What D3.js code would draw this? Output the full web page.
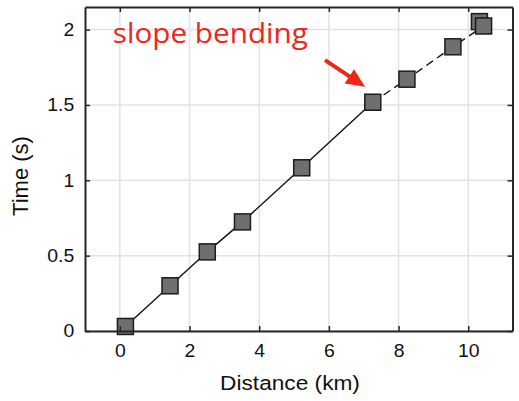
<!DOCTYPE html>
<html>
<head>
<meta charset="utf-8">
<script src="https://d3js.org/d3.v7.min.js"></script>
<style>
  body { margin: 0; background: #fff; }
  svg { display: block; }
</style>
</head>
<body>
<script>
// distance (km) and travel time (s) picked off the plot
var distance = [0.16, 1.44, 2.51, 3.52, 5.22, 7.26, 8.24, 9.56, 10.32, 10.44];
var time = [0.03, 0.30, 0.525, 0.724, 1.083, 1.518, 1.671, 1.886, 2.053, 2.024];
// where the slope changes (index of the 7.26 km point)
var bendIndex = 5;

var xTicks = [0, 2, 4, 6, 8, 10];
var yTicks = [0, 0.5, 1, 1.5, 2];
var yTickLabels = ["0", "0.5", "1", "1.5", "2"];

var W = 519, H = 401;
var pLeft = 85, pRight = 512.5, pTop = 7, pBottom = 331;

var svg = d3.select("body").append("svg")
  .attr("width", W)
  .attr("height", H);

var x = d3.scaleLinear().domain([-1, 11.27]).range([pLeft, pRight]);
var y = d3.scaleLinear().domain([0, 2.15]).range([pBottom, pTop]);

var pts = distance.map(function(d, i) { return { x: d, y: time[i] }; });

//grid
svg.append("g").selectAll("line")
  .data(xTicks)
  .enter().append("line")
  .attr("x1", function(d) { return x(d); })
  .attr("x2", function(d) { return x(d); })
  .attr("y1", pTop)
  .attr("y2", pBottom)
  .attr("stroke", "#e2e2e2")
  .attr("stroke-width", 1.5);
svg.append("g").selectAll("line")
  .data(yTicks)
  .enter().append("line")
  .attr("x1", pLeft)
  .attr("x2", pRight)
  .attr("y1", function(d) { return y(d); })
  .attr("y2", function(d) { return y(d); })
  .attr("stroke", "#e2e2e2")
  .attr("stroke-width", 1.5);

//lines, solid up to the bend, dashed after it
var line = d3.line()
  .x(function(d) { return x(d.x); })
  .y(function(d) { return y(d.y); });

svg.append("path")
  .datum(pts.slice(0, bendIndex + 1))
  .attr("d", line)
  .attr("fill", "none")
  .attr("stroke", "#111")
  .attr("stroke-width", 1.4);

// dashed part runs to the last pick, skipping the one hidden under it
svg.append("path")
  .datum(pts.slice(bendIndex).filter(function(d, i, a) { return i != a.length - 2; }))
  .attr("d", line)
  .attr("fill", "none")
  .attr("stroke", "#111")
  .attr("stroke-width", 1.4)
  .attr("stroke-dasharray", "8,5");

//markers
var s = 16;
svg.append("g").selectAll("rect")
  .data(pts)
  .enter().append("rect")
  .attr("x", function(d) { return x(d.x) - s / 2; })
  .attr("y", function(d) { return y(d.y) - s / 2; })
  .attr("width", s)
  .attr("height", s)
  .attr("fill", "#6f6f6f")
  .attr("stroke", "#1c1c1c")
  .attr("stroke-width", 1.5);

//axes (box with inside ticks)
function styleAxis(g) {
  g.select(".domain").attr("stroke", "#262626").attr("stroke-width", 2);
  g.selectAll(".tick line").attr("stroke", "#262626").attr("stroke-width", 1.5);
  g.selectAll(".tick text")
    .attr("fill", "#111")
    .style("font-family", "'Liberation Sans', Arial, sans-serif")
    .style("font-size", "18px");
}

svg.append("g")
  .attr("transform", "translate(0," + pBottom + ")")
  .call(d3.axisBottom(x).tickValues(xTicks).tickSize(-5).tickPadding(13).tickSizeOuter(0))
  .call(styleAxis)
  .selectAll(".tick text").attr("transform", "scale(1.08,1)");

svg.append("g")
  .attr("transform", "translate(0," + pTop + ")")
  .call(d3.axisTop(x).tickValues(xTicks).tickSize(-5).tickFormat("").tickSizeOuter(0))
  .call(styleAxis);

svg.append("g")
  .attr("transform", "translate(" + pLeft + ",0)")
  .call(d3.axisLeft(y).tickValues(yTicks).tickSize(-5).tickPadding(10).tickSizeOuter(0)
    .tickFormat(function(d, i) { return yTickLabels[i]; }))
  .call(styleAxis)
  .selectAll(".tick text").attr("transform", "scale(1.08,1)");

svg.append("g")
  .attr("transform", "translate(" + pRight + ",0)")
  .call(d3.axisRight(y).tickValues(yTicks).tickSize(-5).tickFormat("").tickSizeOuter(0))
  .call(styleAxis);

//axis titles
svg.append("text")
  .attr("transform", "translate(290,390) scale(1.08,1)")
  .attr("text-anchor", "middle")
  .style("font-family", "'Liberation Sans', Arial, sans-serif")
  .style("font-size", "21px")
  .attr("fill", "#111")
  .text("Distance (km)");

svg.append("text")
  .attr("transform", "translate(28,176) rotate(-90)")
  .attr("text-anchor", "middle")
  .style("font-family", "'Liberation Sans', Arial, sans-serif")
  .style("font-size", "22px")
  .attr("fill", "#111")
  .text("Time (s)");

//annotation
var red = "#ee2619";
svg.append("text")
  .attr("x", x(-0.2))
  .attr("y", y(1.91))
  .attr("textLength", 195)
  .attr("lengthAdjust", "spacingAndGlyphs")
  .style("font-family", "'Open Sans', sans-serif")
  .style("font-size", "28px")
  .attr("fill", red)
  .text("slope bending");

var a0 = [x(5.89), y(1.797)], a1 = [x(7.04), y(1.62)];
var ang = Math.atan2(a1[1] - a0[1], a1[0] - a0[0]);
var hl = 19, hw = 8.5;
var hb = [a1[0] - hl * Math.cos(ang), a1[1] - hl * Math.sin(ang)];
svg.append("line")
  .attr("x1", a0[0]).attr("y1", a0[1])
  .attr("x2", hb[0] + 2 * Math.cos(ang)).attr("y2", hb[1] + 2 * Math.sin(ang))
  .attr("stroke", red)
  .attr("stroke-width", 4);
svg.append("path")
  .attr("d", "M" + a1[0] + "," + a1[1] +
    "L" + (hb[0] + hw * Math.sin(ang)) + "," + (hb[1] - hw * Math.cos(ang)) +
    "L" + (hb[0] - hw * Math.sin(ang)) + "," + (hb[1] + hw * Math.cos(ang)) + "Z")
  .attr("fill", red);
</script>
</body>
</html>
